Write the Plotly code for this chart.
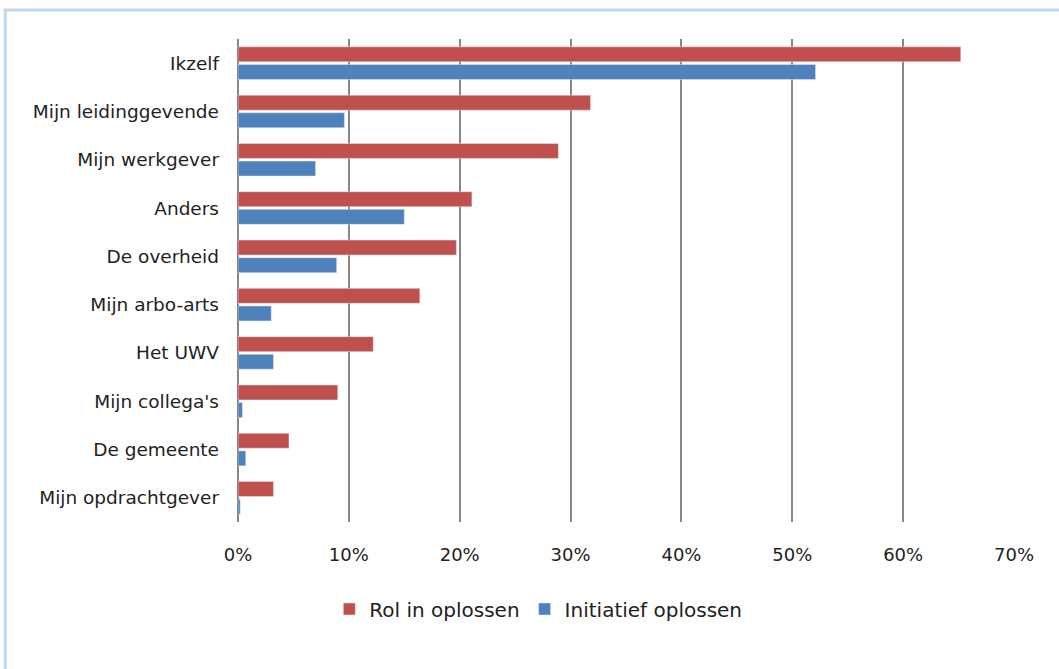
import plotly.graph_objects as go

# Categories listed top to bottom
categories = [
    "Ikzelf",
    "Mijn leidinggevende",
    "Mijn werkgever",
    "Anders",
    "De overheid",
    "Mijn arbo-arts",
    "Het UWV",
    "Mijn collega's",
    "De gemeente",
    "Mijn opdrachtgever",
]
rol_in_oplossen = [0.652, 0.318, 0.289, 0.211, 0.197, 0.164, 0.122, 0.090, 0.046, 0.032]
initiatief_oplossen = [0.521, 0.096, 0.070, 0.150, 0.089, 0.030, 0.032, 0.004, 0.007, 0.002]
tick_values = [0, 0.1, 0.2, 0.3, 0.4, 0.5, 0.6, 0.7]
tick_labels = ["0%", "10%", "20%", "30%", "40%", "50%", "60%", "70%"]

RED = "#C0504D"
BLUE = "#4F81BD"
FONT = "'DejaVu Sans', sans-serif"
TEXT = "#222222"

fig = go.Figure()
# Blue trace first so the red bar sits above it within each group
fig.add_trace(go.Bar(
    y=categories, x=initiatief_oplossen, orientation="h",
    name="Initiatief oplossen", marker_color=BLUE,
))
fig.add_trace(go.Bar(
    y=categories, x=rol_in_oplossen, orientation="h",
    name="Rol in oplossen", marker_color=RED,
))

fig.update_layout(
    width=1059, height=669,
    margin=dict(l=238, r=45, t=39, b=147),
    paper_bgcolor="white", plot_bgcolor="white",
    barmode="group", bargap=0.27, bargroupgap=0.15,
    font=dict(family=FONT, size=18, color=TEXT),
    showlegend=True,
    legend=dict(
        orientation="h", x=0.387, xanchor="center", y=-0.18, yanchor="middle",
        font=dict(size=20, color=TEXT), traceorder="reversed",
        itemwidth=30,
    ),
    xaxis=dict(
        range=[0, 0.7], tickvals=tick_values, ticktext=tick_labels,
        tickfont=dict(size=18),
        showgrid=True, gridcolor="#878787", gridwidth=1.6,
        zeroline=True, zerolinecolor="#878787", zerolinewidth=1.6,
        showline=False, ticks="", ticklabelstandoff=20,
        fixedrange=True,
    ),
    yaxis=dict(
        categoryorder="array", categoryarray=categories[::-1],
        tickfont=dict(size=18.5),
        showgrid=False, zeroline=False, showline=False,
        ticks="", ticklabelstandoff=18,
        fixedrange=True,
    ),
    shapes=[dict(
        type="rect", xref="paper", yref="paper",
        x0=-0.300, x1=1.2, y0=-0.6, y1=1.060,
        line=dict(color="#BDD7EE", width=3), fillcolor="rgba(0,0,0,0)",
        layer="below",
    )],
)

fig.write_html("out.html")
